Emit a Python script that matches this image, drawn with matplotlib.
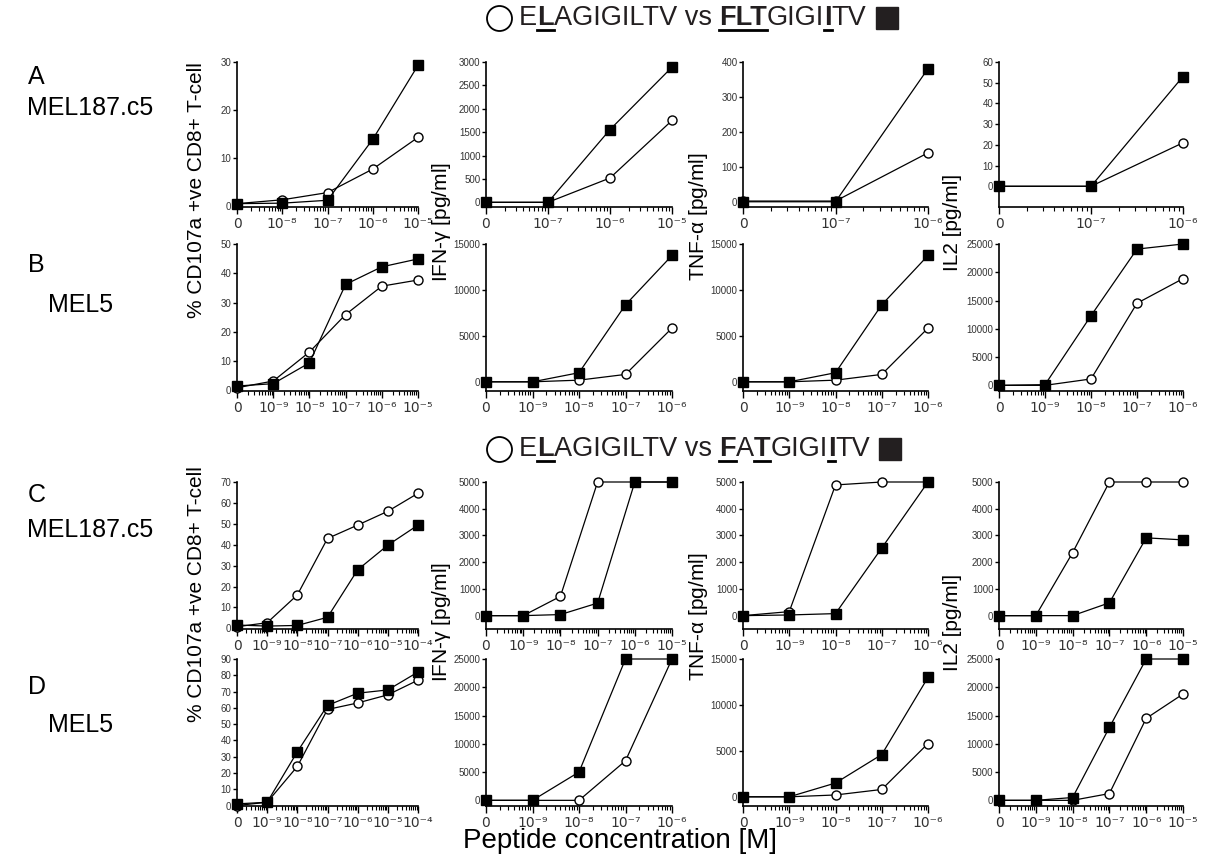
import numpy as np
import matplotlib
matplotlib.use("Agg")
import matplotlib.pyplot as plt
from matplotlib.lines import Line2D

plt.rcParams['font.family'] = ['Liberation Sans', 'DejaVu Sans']
plt.rcParams['mathtext.default'] = 'regular'

# ---- data: exponents of the decades after "0", open = ELAGIGILTV, fill = analog ----
a1_exp = [-8, -7, -6, -5]
a1_open = [0.5, 1.3, 2.8, 7.7, 14.3]
a1_fill = [0.5, 0.6, 1.2, 13.9, 29.3]
a2_exp = [-7, -6, -5]
a2_open = [0, 0, 520, 1750]
a2_fill = [0, 0, 1555, 2890]
a3_exp = [-7, -6]
a3_open = [2, 2, 140]
a3_fill = [0, 0, 381]
a4_exp = [-7, -6]
a4_open = [0, 0, 21]
a4_fill = [0, 0, 53]

b1_exp = [-9, -8, -7, -6, -5]
b1_open = [0.9, 3.2, 13.1, 25.9, 35.6, 37.7]
b1_fill = [1.5, 2.3, 9.4, 36.2, 42.2, 44.9]
b2_exp = [-9, -8, -7, -6]
b2_open = [0, 0, 180, 805, 5850]
b2_fill = [0, 0, 990, 8380, 13750]
b3_exp = [-9, -8, -7, -6]
b3_open = [0, 0, 180, 805, 5850]
b3_fill = [0, 0, 990, 8380, 13750]
b4_exp = [-9, -8, -7, -6]
b4_open = [0, 0, 1130, 14520, 18870]
b4_fill = [0, 120, 12320, 24100, 25000]

c1_exp = [-9, -8, -7, -6, -5, -4]
c1_open = [0.8, 2.7, 16.0, 43.0, 49.4, 56.0, 64.6]
c1_fill = [1.6, 1.1, 1.4, 5.3, 28.0, 39.8, 49.4]
c2_exp = [-9, -8, -7, -6, -5]
c2_open = [0, 0, 720, 5000, 5000, 5000]
c2_fill = [0, 0, 40, 470, 5000, 5000]
c3_exp = [-9, -8, -7, -6]
c3_open = [0, 150, 4890, 5000, 5000]
c3_fill = [0, 25, 76, 2530, 5000]
c4_exp = [-9, -8, -7, -6, -5]
c4_open = [0, 0, 2355, 5000, 5000, 5000]
c4_fill = [0, 0, 0, 480, 2910, 2835]

d1_exp = [-9, -8, -7, -6, -5, -4]
d1_open = [0, 2, 24, 59, 63, 68, 77]
d1_fill = [1, 2, 33, 61.5, 69, 71, 82]
d2_exp = [-9, -8, -7, -6]
d2_open = [0, 0, 0, 7000, 25000]
d2_fill = [0, 0, 5000, 25000, 25000]
d3_exp = [-9, -8, -7, -6]
d3_open = [0, 0, 200, 800, 5800]
d3_fill = [0, 0, 1500, 4600, 13000]
d4_exp = [-9, -8, -7, -6, -5]
d4_open = [0, 0, 0, 1200, 14500, 18800]
d4_fill = [0, 0, 500, 12900, 25000, 25000]

W, H = 1205, 857
fig = plt.figure(figsize=(W / 100, H / 100), dpi=100)

cols = [(237, 418), (486, 672), (743, 928), (999, 1183)]
rows = [(62, 207), (244, 391), (482, 629), (659, 806)]

SUP = str.maketrans('-0123456789', '⁻⁰¹²³⁴⁵⁶⁷⁸⁹')


def panel(r, c, exps, yopen, yfill, ylo, yhi, ystep):
    x0, x1 = cols[c]
    top, bot = rows[r]
    ax = fig.add_axes([x0 / W, 1 - bot / H, (x1 - x0) / W, (bot - top) / H])
    x = np.arange(len(yopen))
    ax.plot(x, yopen, '-o', color='black', mfc='white', mec='black', ms=6.5,
            mew=1.0, lw=0.9, clip_on=False, zorder=3)
    ax.plot(x, yfill, '-s', color='black', ms=6.5, lw=0.9, clip_on=False, zorder=4)
    ax.set_xlim(0, len(exps))
    ax.set_ylim(ylo, yhi)
    ax.set_xticks(x)
    ax.set_xticklabels(['0'] + ['10' + str(e).translate(SUP) for e in exps])
    ax.set_xticks([i + np.log10(k) for i in range(len(exps)) for k in range(2, 10)], minor=True)
    ax.set_yticks(np.arange(0, yhi + 1, ystep))
    ax.set_yticklabels(['%d' % v for v in np.arange(0, yhi + 1, ystep)])
    for s in ['top', 'right']:
        ax.spines[s].set_visible(False)
    for s in ['left', 'bottom']:
        ax.spines[s].set_linewidth(1.2)
    ax.tick_params(axis='x', which='major', length=5, width=1.0, labelsize=11, pad=2,
                   labelcolor='#333333')
    ax.tick_params(axis='x', which='minor', length=3, width=0.8)
    ax.tick_params(axis='y', length=3, width=1.0, labelsize=7, pad=1, labelcolor='#333333')
    for lab in ax.get_xticklabels():
        lab.set_family(['DejaVu Sans'])
        lab.set_fontsize(10)
    ax.patch.set_alpha(0)
    return ax


panel(0, 0, a1_exp, a1_open, a1_fill, -0.2, 30, 10)
panel(0, 1, a2_exp, a2_open, a2_fill, -100, 3000, 500)
panel(0, 2, a3_exp, a3_open, a3_fill, -15, 400, 100)
panel(0, 3, a4_exp, a4_open, a4_fill, -10, 60, 10)
panel(1, 0, b1_exp, b1_open, b1_fill, -0.2, 50, 10)
panel(1, 1, b2_exp, b2_open, b2_fill, -1000, 15000, 5000)
panel(1, 2, b3_exp, b3_open, b3_fill, -1000, 15000, 5000)
panel(1, 3, b4_exp, b4_open, b4_fill, -1000, 25000, 5000)
panel(2, 0, c1_exp, c1_open, c1_fill, -0.3, 70, 10)
panel(2, 1, c2_exp, c2_open, c2_fill, -500, 5000, 1000)
panel(2, 2, c3_exp, c3_open, c3_fill, -500, 5000, 1000)
panel(2, 3, c4_exp, c4_open, c4_fill, -500, 5000, 1000)
panel(3, 0, d1_exp, d1_open, d1_fill, -0.3, 90, 10)
panel(3, 1, d2_exp, d2_open, d2_fill, -1000, 25000, 5000)
panel(3, 2, d3_exp, d3_open, d3_fill, -1000, 15000, 5000)
panel(3, 3, d4_exp, d4_open, d4_fill, -1000, 25000, 5000)

# y-axis labels
ylab_fs = 15
for yc1, yc in [(190, 222), (594, 622)]:
    fig.text(197 / W, 1 - yc1 / H, '% CD107a +ve CD8+ T-cell', rotation=90,
             ha='center', va='center', fontsize=ylab_fs)
    fig.text(442 / W, 1 - yc / H, r'IFN-$\gamma$ [pg/ml]', rotation=90,
             ha='center', va='center', fontsize=ylab_fs)
    fig.text(698 / W, 1 - (yc - 5) / H, r'TNF-$\alpha$ [pg/ml]', rotation=90,
             ha='center', va='center', fontsize=ylab_fs)
    fig.text(952 / W, 1 - yc / H, 'IL2 [pg/ml]', rotation=90,
             ha='center', va='center', fontsize=ylab_fs)

# row letters and cell lines
for letter, ly, line, lx, my in [('A', 77, 'MEL187.c5', 27, 108), ('B', 265, 'MEL5', 48, 305),
                                 ('C', 495, 'MEL187.c5', 27, 530), ('D', 687, 'MEL5', 48, 725)]:
    fig.text(28 / W, 1 - ly / H, letter, fontsize=18, ha='left', va='center')
    fig.text(lx / W, 1 - my / H, line, fontsize=18, ha='left', va='center')

fig.text(620 / W, 3 / H, 'Peptide concentration [M]', fontsize=20, ha='center', va='bottom')

# peptide titles with bold underlined residues
renderer = fig.canvas.get_renderer()
title_fs = 19.5


def width_of(s, weight):
    t = fig.text(0, 0, s + '|', fontsize=title_fs, fontweight=weight)
    bar = fig.text(0, 0, '|', fontsize=title_fs, fontweight=weight)
    w = t.get_window_extent(renderer).width - bar.get_window_extent(renderer).width
    t.remove()
    bar.remove()
    return w


def title_line(yc, parts):
    ypix = H - yc
    fig.add_artist(Line2D([499 / W], [ypix / H], transform=fig.transFigure, marker='o',
                          ms=18, mfc='white', mec='black', mew=1.3))
    x = 519
    for s, bold in parts:
        weight = 'bold' if bold else 'normal'
        fig.text(x / W, ypix / H, s, fontsize=title_fs, fontweight=weight,
                 ha='left', va='center', color='#231f20')
        w = width_of(s, weight)
        if bold:
            fig.add_artist(Line2D([x / W, (x + w) / W], [(ypix - 11.5) / H] * 2,
                                  transform=fig.transFigure, color='black', lw=2))
        x += w
    fig.add_artist(Line2D([(x + 20) / W], [ypix / H], transform=fig.transFigure, marker='s',
                          ms=16.5, color='#231f20'))


title_line(18, [('E', 0), ('L', 1), ('AGIGILTV vs ', 0), ('FLT', 1), ('GIGI', 0), ('I', 1), ('TV', 0)])
title_line(449, [('E', 0), ('L', 1), ('AGIGILTV vs ', 0), ('F', 1), ('A', 0), ('T', 1),
                 ('GIGI', 0), ('I', 1), ('TV', 0)])

fig.savefig('out.png', dpi=100)
